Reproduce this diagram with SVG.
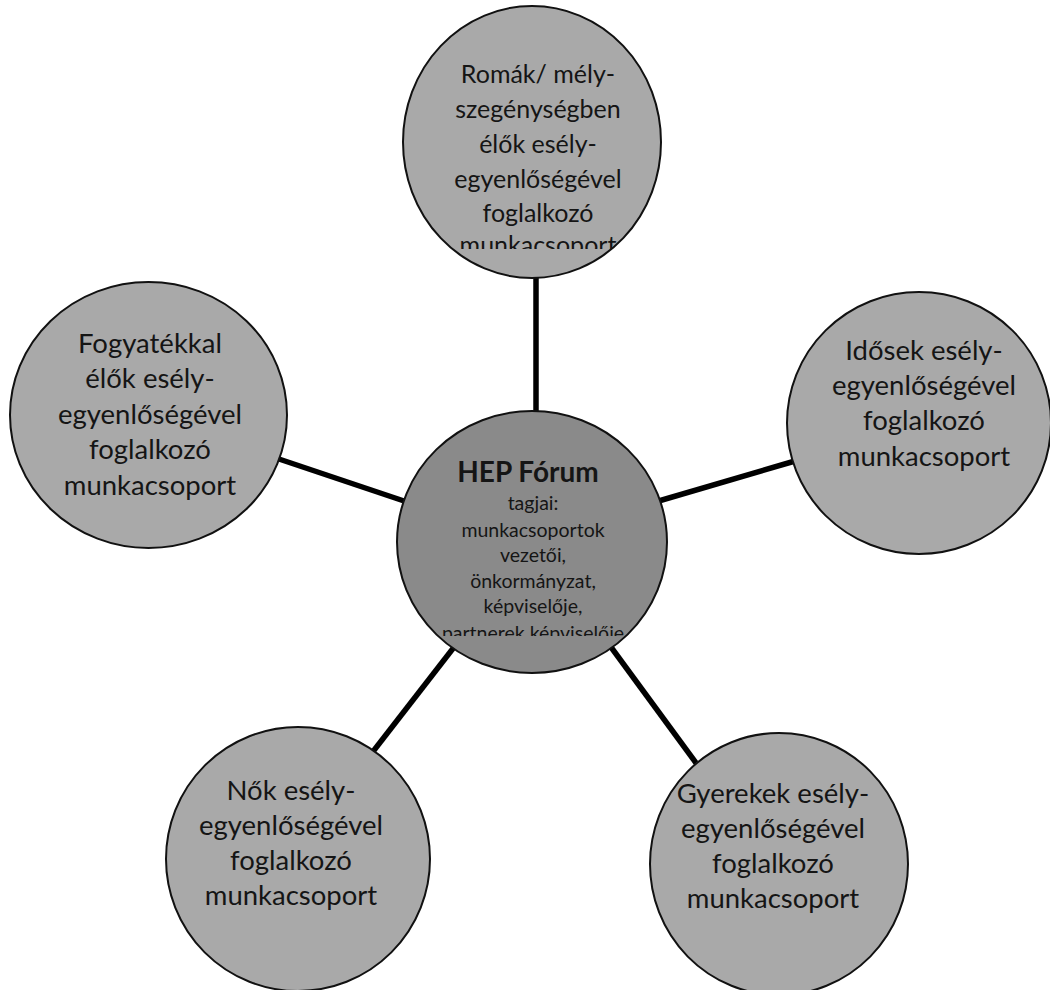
<svg xmlns="http://www.w3.org/2000/svg" width="1050" height="990" viewBox="0 0 1050 990">
<style>
.outer{fill:#a9a9a9;stroke:#111;stroke-width:2}
.hub{fill:#8a8a8a;stroke:#111;stroke-width:2}
.lbl{font-family:Lato,"Liberation Sans",sans-serif;font-size:27.5px;fill:#151515;text-anchor:middle}
.top{font-size:25px}
.ctr{font-family:Lato,"Liberation Sans",sans-serif;font-size:19.5px;fill:#151515;text-anchor:middle}
.ttl{font-size:28px;font-weight:bold}
.conn line{stroke:#000;stroke-width:5.5;stroke-linecap:butt}
</style>
<defs>
<clipPath id="clipTop"><rect x="400" y="0" width="270" height="249"/></clipPath>
<clipPath id="clipHub"><rect x="390" y="400" width="290" height="236"/></clipPath>
</defs>
<rect width="1050" height="990" fill="#fff"/>
<g id="connectors" class="conn">
<line x1="536" y1="270" x2="536" y2="420"/>
<line x1="270" y1="456" x2="410" y2="503"/>
<line x1="645" y1="505" x2="795" y2="461"/>
<line x1="458" y1="642" x2="368" y2="758"/>
<line x1="608" y1="643" x2="696" y2="763"/>
</g>
<g id="node-roma">
<ellipse class="outer" cx="532" cy="142" rx="129" ry="136"/>
<g clip-path="url(#clipTop)">
<text class="lbl top" x="538" y="83">Romák/ mély-</text>
<text class="lbl top" x="538" y="118">szegénységben</text>
<text class="lbl top" x="538" y="153">élők esély-</text>
<text class="lbl top" x="538" y="188">egyenlőségével</text>
<text class="lbl top" x="538" y="222">foglalkozó</text>
<text class="lbl top" x="538" y="254">munkacsoport</text>
</g>
</g>
<g id="node-fogyatekkal">
<ellipse class="outer" cx="148.5" cy="415" rx="138.5" ry="133"/>
<text class="lbl" x="150" y="353">Fogyatékkal</text>
<text class="lbl" x="150" y="388">élők esély-</text>
<text class="lbl" x="150" y="424">egyenlőségével</text>
<text class="lbl" x="150" y="459">foglalkozó</text>
<text class="lbl" x="150" y="495">munkacsoport</text>
</g>
<g id="node-idosek">
<ellipse class="outer" cx="919" cy="423" rx="132" ry="131"/>
<text class="lbl" x="924" y="360">Idősek esély-</text>
<text class="lbl" x="924" y="395">egyenlőségével</text>
<text class="lbl" x="924" y="430">foglalkozó</text>
<text class="lbl" x="924" y="466">munkacsoport</text>
</g>
<g id="node-nok">
<ellipse class="outer" cx="298" cy="859" rx="132" ry="132"/>
<text class="lbl" x="291" y="800">Nők esély-</text>
<text class="lbl" x="291" y="835">egyenlőségével</text>
<text class="lbl" x="291" y="870">foglalkozó</text>
<text class="lbl" x="291" y="905">munkacsoport</text>
</g>
<g id="node-gyerekek">
<ellipse class="outer" cx="779" cy="864" rx="129" ry="131"/>
<text class="lbl" x="773" y="803">Gyerekek esély-</text>
<text class="lbl" x="773" y="838">egyenlőségével</text>
<text class="lbl" x="773" y="873">foglalkozó</text>
<text class="lbl" x="773" y="908">munkacsoport</text>
</g>
<g id="node-hep">
<ellipse class="hub" cx="532" cy="542" rx="135" ry="131"/>
<g clip-path="url(#clipHub)">
<text class="ctr ttl" x="528" y="482">HEP Fórum</text>
<text class="ctr" x="533" y="510">tagjai:</text>
<text class="ctr" x="533" y="537">munkacsoportok</text>
<text class="ctr" x="533" y="562">vezetői,</text>
<text class="ctr" x="533" y="588">önkormányzat,</text>
<text class="ctr" x="533" y="613">képviselője,</text>
<text class="ctr" x="533" y="640">partnerek képviselője</text>
</g>
</g>
</svg>
